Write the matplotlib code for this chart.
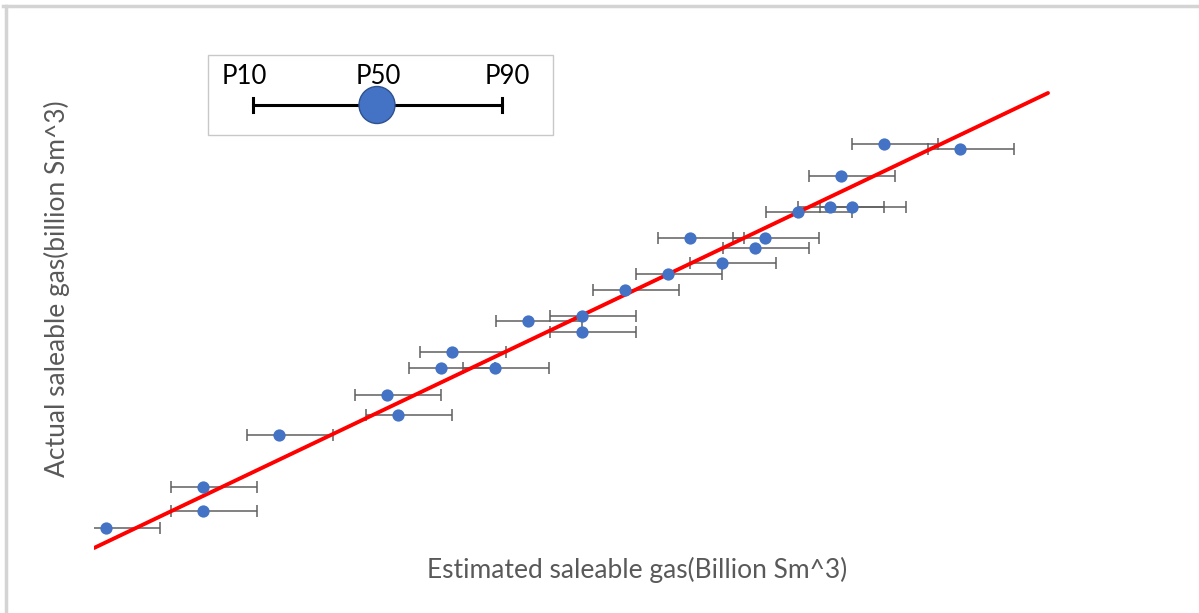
import numpy as np
import matplotlib
matplotlib.use("Agg")
import matplotlib.pyplot as plt
from matplotlib.patches import Rectangle, Ellipse
from matplotlib.lines import Line2D

# estimated (P50) vs actual saleable gas, arbitrary units
estimated = [1.2, 10.9, 10.9, 18.5, 29.3, 30.4, 34.7, 35.8, 40.1, 43.4, 48.8, 48.8,
             53.1, 57.4, 59.6, 62.8, 66.1, 67.1, 70.4, 73.6, 75.8, 74.7, 79.0, 86.6]
actual = [2.0, 3.7, 6.1, 11.3, 15.3, 13.3, 18.0, 19.6, 18.0, 22.7, 23.2, 21.6,
          25.8, 27.4, 31.0, 28.5, 30.0, 31.0, 33.6, 34.1, 34.1, 37.2, 40.4, 39.9]
p10_gap = [3.2] * len(estimated)
p90_gap = [5.4] * len(estimated)
fit_x = [0.0, 95.4]
fit_y = [0.0, 45.5]

W, H = 1199, 613
fig = plt.figure(figsize=(W / 100, H / 100), dpi=100)
plt.rcParams['font.family'] = ['Lato', 'DejaVu Sans']

def fx(px):
    return px / W

def fy(py):
    return 1 - py / H

# plot area: px 94..1060 horizontally, px 80..560 vertically
ax = fig.add_axes([fx(94), fy(560), fx(1060) - fx(94), fy(80) - fy(560)])
ax.set_xlim(0, 96.6)
ax.set_ylim(-1.2, 46.8)
ax.axis("off")

ax.errorbar(estimated, actual, xerr=[p10_gap, p90_gap], fmt="none",
            ecolor="#5f5f5f", elinewidth=1.1, capsize=4.5, capthick=1.1, zorder=2)
ax.plot(fit_x, fit_y, color="#ff0000", lw=2.8, solid_capstyle="round", zorder=3)
ax.scatter(estimated, actual, s=78, color="#4472c4", zorder=4, linewidths=0)

# axis titles
fig.text(fx(637), fy(570), "Estimated saleable gas(Billion Sm^3)", ha="center",
         va="center", fontsize=19, color="#595959")
fig.text(fx(57), fy(289), "Actual saleable gas(billion Sm^3)", ha="center",
         va="center", rotation=90, fontsize=19, color="#595959")

# hand-made legend box
fig.add_artist(Rectangle((fx(208), fy(135)), fx(553) - fx(208), fy(55) - fy(135),
                         transform=fig.transFigure, fill=False, edgecolor="#c8c8c8", lw=1))
fig.add_artist(Line2D([fx(253), fx(502)], [fy(105), fy(105)], transform=fig.transFigure,
                      color="black", lw=2.2))
for xp in (253, 502):
    fig.add_artist(Line2D([fx(xp), fx(xp)], [fy(98), fy(112)], transform=fig.transFigure,
                          color="black", lw=2.2))
fig.add_artist(Ellipse((fx(377), fy(105)), fx(36), 37 / H, transform=fig.transFigure,
                       facecolor="#4472c4", edgecolor="#2f528f", lw=1, zorder=5))
for label, xp in (("P10", 244), ("P50", 378), ("P90", 507)):
    fig.text(fx(xp), fy(76), label, ha="center", va="center", fontsize=18.5, color="black")

# screenshot frame (top and left edges)
fig.add_artist(Line2D([fx(3), 1], [fy(6), fy(6)], transform=fig.transFigure,
                      color="#d4d4d4", lw=2.5))
fig.add_artist(Line2D([fx(6), fx(6)], [0, fy(6)], transform=fig.transFigure,
                      color="#d4d4d4", lw=2.5))

fig.savefig("out.png", dpi=100, facecolor="white")
